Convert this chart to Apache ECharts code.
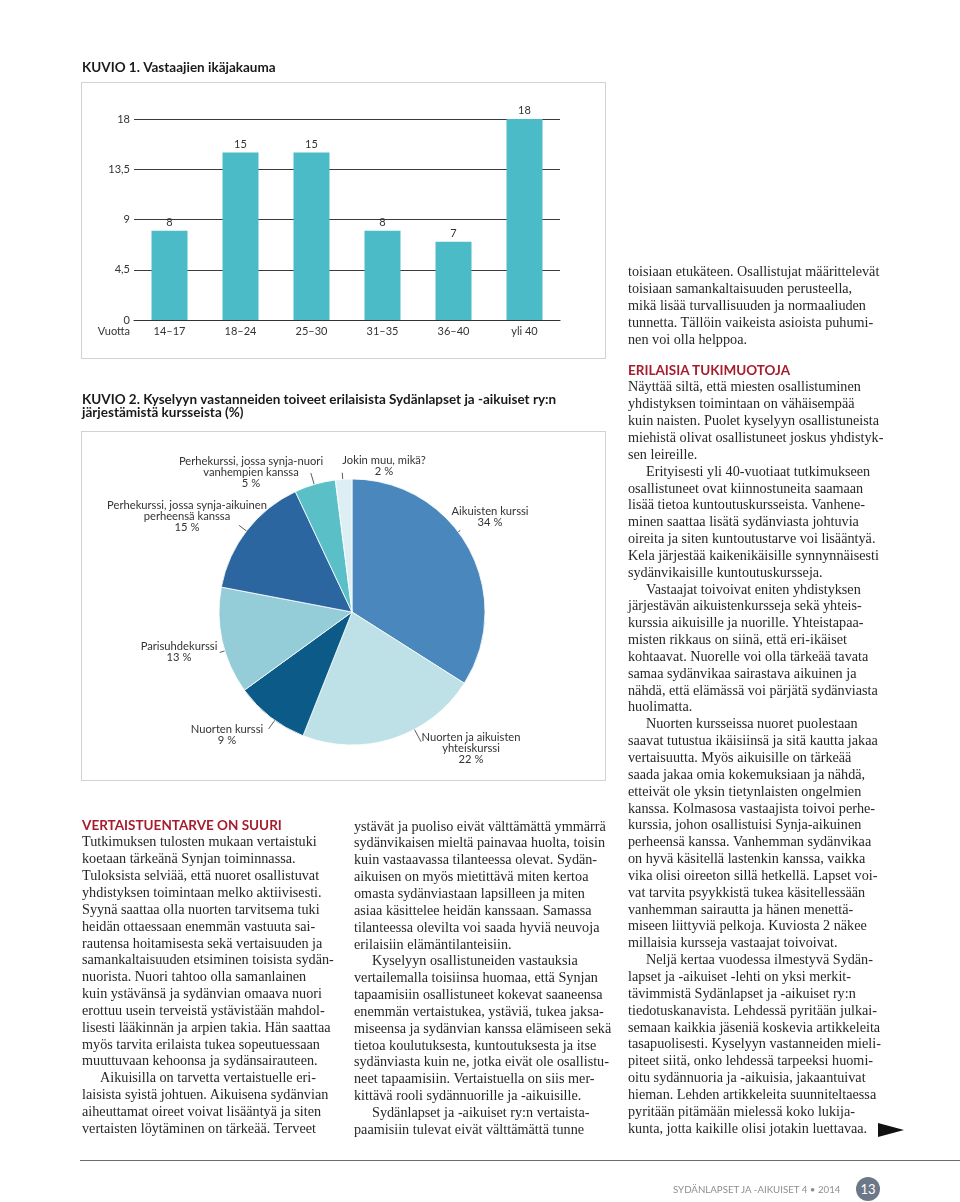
<!DOCTYPE html>
<html>
<head>
<meta charset="utf-8">
<script src="https://cdn.jsdelivr.net/npm/echarts@6/dist/echarts.min.js"></script>
<style>
  html, body { margin:0; padding:0; background:#fff; }
  #page { position:relative; width:960px; height:1202px; overflow:hidden; }
  #chart { position:absolute; left:0; top:0; width:960px; height:1202px; z-index:2; }
  .box { position:absolute; border:1px solid #d2d2d2; box-sizing:border-box; z-index:1; }
  .col { position:absolute; z-index:3; font-family:"Liberation Serif", serif; font-size:14.2px; color:#2a2627; }
  .ln { height:16.85px; line-height:16.85px; white-space:nowrap; }
  .ind { padding-left:18px; }
  .hd { font-family:Lato, sans-serif; font-weight:bold; color:#a51d2d; font-size:13.5px; letter-spacing:0px; }
  #footline { position:absolute; left:80px; top:1159.5px; width:880px; height:0; border-top:1.5px solid #6d6d6d; z-index:3; }
  #foottext { position:absolute; left:673px; top:1182px; font-family:Lato, sans-serif; font-size:9.7px; color:#8e8e8e; z-index:3; line-height:14px; white-space:nowrap; }
  #pagenum { position:absolute; left:856px; top:1177px; width:24px; height:24px; border-radius:12px; background:#6c7888; color:#fff; font-family:Lato, sans-serif; font-size:13px; line-height:24px; text-align:center; z-index:3; }
  #arrow { position:absolute; left:878px; top:1123px; width:0; height:0; border-left:26px solid #111; border-top:7px solid transparent; border-bottom:7px solid transparent; z-index:3; }
</style>
</head>
<body>
<div id="page">
  <div class="box" style="left:81px; top:82px; width:525px; height:277px;"></div>
  <div class="box" style="left:81px; top:431px; width:525px; height:350px;"></div>
  <div id="chart"></div>
  <div class="col" id="col1" style="left:82px; top:816.6px;"></div>
  <div class="col" id="col2" style="left:354px; top:817.6px;"></div>
  <div class="col" id="col3a" style="left:628px; top:263.3px;"></div>
  <div class="col" id="col3b" style="left:628px; top:361.6px;"></div>
  <div id="footline"></div>
  <div id="foottext">SYDÄNLAPSET JA -AIKUISET 4 • 2014</div>
  <div id="pagenum">13</div>
  <div id="arrow"></div>
</div>
<script>
// ---------- DATA ----------
const ageCategories = ['14–17', '18–24', '25–30', '31–35', '36–40', 'yli 40'];
const ageValues = [8, 15, 15, 8, 7, 18];
const ageAxisName = 'Vuotta';

const courseNames = [
  'Aikuisten kurssi',
  'Nuorten ja aikuisten\nyhteiskurssi',
  'Nuorten kurssi',
  'Parisuhdekurssi',
  'Perhekurssi, jossa synja-aikuinen\nperheensä kanssa',
  'Perhekurssi, jossa synja-nuori\nvanhempien kanssa',
  'Jokin muu, mikä?'
];
const courseValues = [34, 22, 9, 13, 15, 5, 2];
const courseColors = ['#4a87bc', '#bde1e6', '#0b5a87', '#94cdd8', '#2c66a1', '#5bbfc7', '#ddeff4'];

const title1 = 'KUVIO 1. Vastaajien ikäjakauma';
const title2 = 'KUVIO 2. Kyselyyn vastanneiden toiveet erilaisista Sydänlapset ja -aikuiset ry:n\njärjestämistä kursseista (%)';

// ---------- BODY TEXT ----------
const col1 = [
  '#VERTAISTUENTARVE ON SUURI',
  'Tutkimuksen tulosten mukaan vertaistuki',
  'koetaan tärkeänä Synjan toiminnassa.',
  'Tuloksista selviää, että nuoret osallistuvat',
  'yhdistyksen toimintaan melko aktiivisesti.',
  'Syynä saattaa olla nuorten tarvitsema tuki',
  'heidän ottaessaan enemmän vastuuta sai-',
  'rautensa hoitamisesta sekä vertaisuuden ja',
  'samankaltaisuuden etsiminen toisista sydän-',
  'nuorista. Nuori tahtoo olla samanlainen',
  'kuin ystävänsä ja sydänvian omaava nuori',
  'erottuu usein terveistä ystävistään mahdol-',
  'lisesti lääkinnän ja arpien takia. Hän saattaa',
  'myös tarvita erilaista tukea sopeutuessaan',
  'muuttuvaan kehoonsa ja sydänsairauteen.',
  '>Aikuisilla on tarvetta vertaistuelle eri-',
  'laisista syistä johtuen. Aikuisena sydänvian',
  'aiheuttamat oireet voivat lisääntyä ja siten',
  'vertaisten löytäminen on tärkeää. Terveet'
];
const col2 = [
  'ystävät ja puoliso eivät välttämättä ymmärrä',
  'sydänvikaisen mieltä painavaa huolta, toisin',
  'kuin vastaavassa tilanteessa olevat. Sydän-',
  'aikuisen on myös mietittävä miten kertoa',
  'omasta sydänviastaan lapsilleen ja miten',
  'asiaa käsittelee heidän kanssaan. Samassa',
  'tilanteessa olevilta voi saada hyviä neuvoja',
  'erilaisiin elämäntilanteisiin.',
  '>Kyselyyn osallistuneiden vastauksia',
  'vertailemalla toisiinsa huomaa, että Synjan',
  'tapaamisiin osallistuneet kokevat saaneensa',
  'enemmän vertaistukea, ystäviä, tukea jaksa-',
  'miseensa ja sydänvian kanssa elämiseen sekä',
  'tietoa koulutuksesta, kuntoutuksesta ja itse',
  'sydänviasta kuin ne, jotka eivät ole osallistu-',
  'neet tapaamisiin. Vertaistuella on siis mer-',
  'kittävä rooli sydännuorille ja -aikuisille.',
  '>Sydänlapset ja -aikuiset ry:n vertaista-',
  'paamisiin tulevat eivät välttämättä tunne'
];
const col3a = [
  'toisiaan etukäteen. Osallistujat määrittelevät',
  'toisiaan samankaltaisuuden perusteella,',
  'mikä lisää turvallisuuden ja normaaliuden',
  'tunnetta. Tällöin vaikeista asioista puhumi-',
  'nen voi olla helppoa.'
];
const col3b = [
  '#ERILAISIA TUKIMUOTOJA',
  'Näyttää siltä, että miesten osallistuminen',
  'yhdistyksen toimintaan on vähäisempää',
  'kuin naisten. Puolet kyselyyn osallistuneista',
  'miehistä olivat osallistuneet joskus yhdistyk-',
  'sen leireille.',
  '>Erityisesti yli 40-vuotiaat tutkimukseen',
  'osallistuneet ovat kiinnostuneita saamaan',
  'lisää tietoa kuntoutuskursseista. Vanhene-',
  'minen saattaa lisätä sydänviasta johtuvia',
  'oireita ja siten kuntoutustarve voi lisääntyä.',
  'Kela järjestää kaikenikäisille synnynnäisesti',
  'sydänvikaisille kuntoutuskursseja.',
  '>Vastaajat toivoivat eniten yhdistyksen',
  'järjestävän aikuistenkursseja sekä yhteis-',
  'kurssia aikuisille ja nuorille. Yhteistapaa-',
  'misten rikkaus on siinä, että eri-ikäiset',
  'kohtaavat. Nuorelle voi olla tärkeää tavata',
  'samaa sydänvikaa sairastava aikuinen ja',
  'nähdä, että elämässä voi pärjätä sydänviasta',
  'huolimatta.',
  '>Nuorten kursseissa nuoret puolestaan',
  'saavat tutustua ikäisiinsä ja sitä kautta jakaa',
  'vertaisuutta. Myös aikuisille on tärkeää',
  'saada jakaa omia kokemuksiaan ja nähdä,',
  'etteivät ole yksin tietynlaisten ongelmien',
  'kanssa. Kolmasosa vastaajista toivoi perhe-',
  'kurssia, johon osallistuisi Synja-aikuinen',
  'perheensä kanssa. Vanhemman sydänvikaa',
  'on hyvä käsitellä lastenkin kanssa, vaikka',
  'vika olisi oireeton sillä hetkellä. Lapset voi-',
  'vat tarvita psyykkistä tukea käsitellessään',
  'vanhemman sairautta ja hänen menettä-',
  'miseen liittyviä pelkoja. Kuviosta 2 näkee',
  'millaisia kursseja vastaajat toivoivat.',
  '>Neljä kertaa vuodessa ilmestyvä Sydän-',
  'lapset ja -aikuiset -lehti on yksi merkit-',
  'tävimmistä Sydänlapset ja -aikuiset ry:n',
  'tiedotuskanavista. Lehdessä pyritään julkai-',
  'semaan kaikkia jäseniä koskevia artikkeleita',
  'tasapuolisesti. Kyselyyn vastanneiden mieli-',
  'piteet siitä, onko lehdessä tarpeeksi huomi-',
  'oitu sydännuoria ja -aikuisia, jakaantuivat',
  'hieman. Lehden artikkeleita suunniteltaessa',
  'pyritään pitämään mielessä koko lukija-',
  'kunta, jotta kaikille olisi jotakin luettavaa.'
];

function fillCol(id, lines) {
  const el = document.getElementById(id);
  lines.forEach(function (t) {
    const d = document.createElement('div');
    d.className = 'ln';
    if (t.charAt(0) === '#') { d.className += ' hd'; t = t.slice(1); }
    else if (t.charAt(0) === '>') { d.className += ' ind'; t = t.slice(1); }
    d.textContent = t;
    el.appendChild(d);
  });
}
fillCol('col1', col1);
fillCol('col2', col2);
fillCol('col3a', col3a);
fillCol('col3b', col3b);

// ---------- CHART ----------
const FONT = 'Lato, sans-serif';
const pieCenter = [352, 612];
const pieR = 133;
// label placement (decoration only)
const labelCenters = [[490, 517], [471, 748], [227, 734.5], [179, 652], [187, 516], [251, 472], [384, 466]];
const lineAngles = [37, -62, 234.5, 197, 142.5, 106.5, 94];
const lineOuter = [1.02, 1.105, 1.08, 1.04, 1.07, 1.09, 1.05];

const chart = echarts.init(document.getElementById('chart'), null, { renderer: 'canvas' });
chart.setOption({
  animation: false,
  backgroundColor: 'transparent',
  textStyle: { fontFamily: FONT },
  title: [
    { text: title1, left: 82, top: 60, padding: 0,
      textStyle: { fontFamily: FONT, fontWeight: 'bold', fontSize: 13.5, color: '#1a1a1a', lineHeight: 16 } },
    { text: title2, left: 82, top: 393, padding: 0,
      textStyle: { fontFamily: FONT, fontWeight: 'bold', fontSize: 13.5, color: '#1a1a1a', lineHeight: 13.4 } }
  ],
  grid: { left: 134, top: 119, width: 426, height: 201, containLabel: false },
  xAxis: {
    type: 'category',
    data: ageCategories,
    name: ageAxisName,
    nameLocation: 'start',
    nameGap: 4,
    nameTextStyle: { color: '#333', fontSize: 11, fontFamily: FONT, align: 'right', verticalAlign: 'top', padding: [6, 0, 0, 0] },
    axisLine: { show: true, lineStyle: { color: '#333', width: 1.2 } },
    axisTick: { show: false },
    axisLabel: { color: '#333', fontSize: 11, fontFamily: FONT, margin: 6 }
  },
  yAxis: {
    type: 'value',
    min: 0, max: 18, interval: 4.5,
    axisLine: { show: false },
    axisTick: { show: false },
    axisLabel: { color: '#333', fontSize: 11, fontFamily: FONT, margin: 4,
      formatter: function (v) { return String(v).replace('.', ','); } },
    splitLine: { show: true, lineStyle: { color: '#3a3a3a', width: 1 } }
  },
  series: [
    {
      type: 'bar',
      data: ageValues,
      barWidth: 36,
      itemStyle: { color: '#4bbbc8' },
      label: { show: true, position: 'top', distance: 3, color: '#333', fontSize: 11, fontFamily: FONT },
      z: 3
    },
    {
      type: 'pie',
      center: pieCenter,
      radius: pieR,
      startAngle: 90,
      clockwise: true,
      data: courseNames.map(function (n, i) {
        return { name: n, value: courseValues[i], itemStyle: { color: courseColors[i] } };
      }),
      itemStyle: { borderColor: '#ffffff', borderWidth: 0.8 },
      label: {
        show: true, position: 'outside', formatter: '{b}\n{c} %',
        color: '#333', fontSize: 11.2, fontFamily: FONT, lineHeight: 11, align: 'center'
      },
      labelLine: { show: true, length: 10, length2: 0, lineStyle: { color: '#333', width: 0.8 } },
      labelLayout: function (p) {
        const i = p.dataIndex;
        const a = lineAngles[i] * Math.PI / 180;
        const r1 = pieR * 0.91, r2 = pieR * lineOuter[i];
        const c = Math.cos(a), s = Math.sin(a);
        const P1 = [pieCenter[0] + r1 * c, pieCenter[1] - r1 * s];
        const P2 = [pieCenter[0] + r2 * c, pieCenter[1] - r2 * s];
        return {
          x: labelCenters[i][0], y: labelCenters[i][1],
          align: 'center', verticalAlign: 'middle',
          labelLinePoints: [P1, [(P1[0] + P2[0]) / 2, (P1[1] + P2[1]) / 2], P2]
        };
      },
      emphasis: { disabled: true }
    }
  ]
});
</script>
</body>
</html>
